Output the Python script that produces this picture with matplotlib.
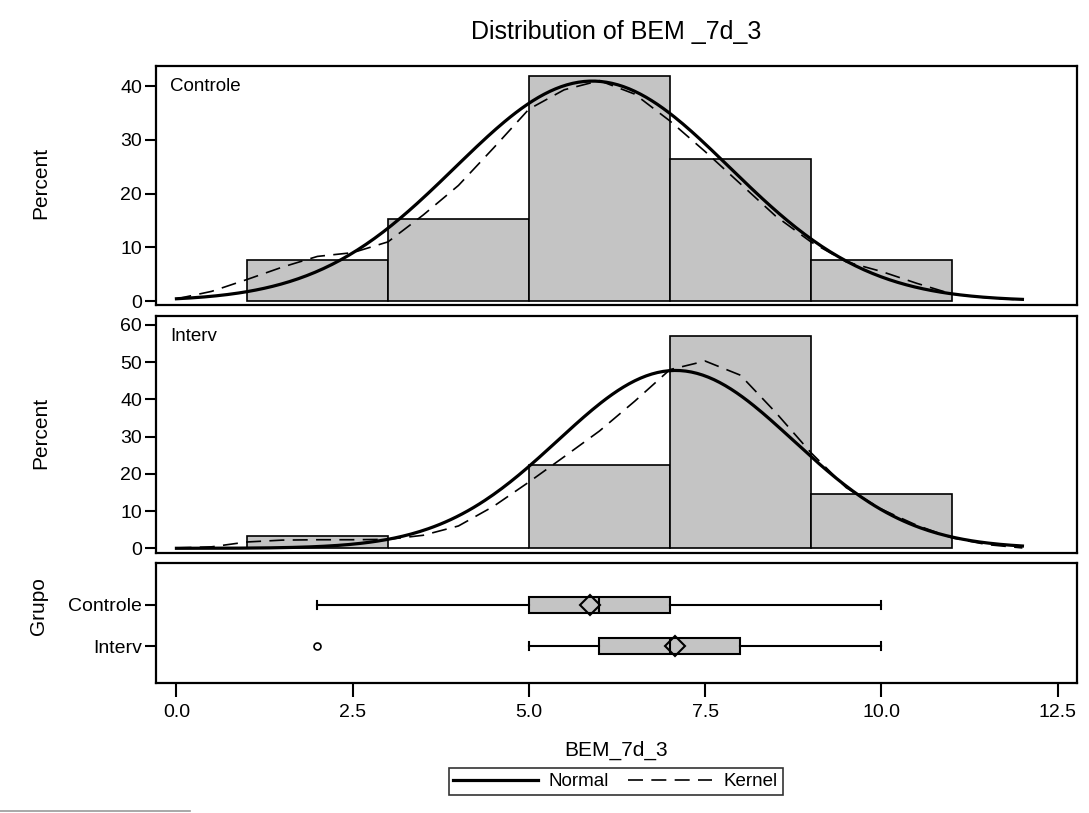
import numpy as np
import matplotlib
matplotlib.use('Agg')
import matplotlib.pyplot as plt
from matplotlib.lines import Line2D

plt.rcParams['font.family'] = ['Liberation Sans', 'DejaVu Sans']

# histogram bins (midpoints, width 2)
bin_mids = [2, 4, 6, 8, 10]
pct_controle = [7.6, 15.2, 41.9, 26.4, 7.6]
pct_interv = [3.4, 0.0, 22.4, 57.0, 14.5]

# fitted normal (mean, std)
normal_controle = (5.9, 1.95)
normal_interv = (7.08, 1.67)

# kernel density curves (percent)
kx = [0.0, 0.5, 1.0, 1.5, 2.0, 2.5, 3.0, 3.5, 4.0, 4.5, 5.0, 5.5, 6.0,
      6.5, 7.0, 7.5, 8.0, 8.5, 9.0, 9.5, 10.0, 10.5, 11.0, 11.5, 12.0]
kern_controle = [0.4, 1.8, 4.0, 6.3, 8.3, 9.0, 11.0, 16.0, 21.5, 28.5, 35.7, 39.3, 41.0,
                 38.5, 33.5, 27.8, 21.8, 15.8, 11.0, 7.3, 5.5, 3.3, 1.3, 0.6, 0.2]
kern_interv = [0.1, 0.4, 1.7, 2.2, 2.3, 2.3, 2.4, 3.5, 6.0, 11.3, 17.8, 24.6, 31.5,
               39.5, 48.0, 50.3, 46.5, 36.5, 25.7, 16.3, 10.5, 6.2, 2.8, 1.0, 0.1]

# box plot summaries
groups = ['Controle', 'Interv']
whislo = [2, 5]
q1 = [5, 6]
med = [6, 7]
q3 = [7, 8]
whishi = [10, 10]
means = [5.87, 7.07]
fliers = [[], [2]]

W, H = 1089, 813
fig = plt.figure(figsize=(W / 100, H / 100), dpi=100)

left = 156 / W
width = (1076.7 - 156) / W
def frac(top, bot):
    return [left, 1 - bot / H, width, (bot - top) / H]

ax1 = fig.add_axes(frac(65.7, 305))
ax2 = fig.add_axes(frac(316, 553.3), sharex=ax1)
ax3 = fig.add_axes(frac(563, 683.3), sharex=ax1)

fill = '#c4c4c4'
xs = np.linspace(0, 12, 300)


def panel(ax, pct, norm, kern, label, ylim, yticks):
    ax.bar(bin_mids, pct, width=2, color=fill, edgecolor='black', linewidth=1.2, zorder=1)
    mu, sd = norm
    ax.plot(xs, 200 * np.exp(-0.5 * ((xs - mu) / sd) ** 2) / (sd * np.sqrt(2 * np.pi)),
            color='black', lw=2.3, zorder=3)
    ax.plot(kx, kern, color='black', lw=1.2, dashes=(9, 5), zorder=3)
    ax.set_ylim(*ylim)
    ax.set_yticks(yticks)
    ax.set_ylabel('Percent', fontsize=15)
    ax.yaxis.set_label_coords(-0.115, 0.508)
    ax.text(0.015, 0.914, label, transform=ax.transAxes, fontsize=13.5, va='center')
    ax.tick_params(axis='x', which='both', bottom=False, labelbottom=False)


panel(ax1, pct_controle, normal_controle, kern_controle, 'Controle', (-0.74, 43.78), [0, 10, 20, 30, 40])
panel(ax2, pct_interv, normal_interv, kern_interv, 'Interv', (-1.34, 62.4), [0, 10, 20, 30, 40, 50, 60])

stats = []
for i, g in enumerate(groups):
    stats.append(dict(label=g, whislo=whislo[i], q1=q1[i], med=med[i], q3=q3[i],
                      whishi=whishi[i], mean=means[i], fliers=fliers[i]))
ax3.bxp(stats, positions=[0, 1], widths=0.39, orientation='horizontal', showmeans=True,
        patch_artist=True, capwidths=0.2,
        boxprops=dict(facecolor=fill, edgecolor='black', linewidth=1.5),
        medianprops=dict(color='black', linewidth=1.5),
        whiskerprops=dict(color='black', linewidth=1.5),
        capprops=dict(color='black', linewidth=1.5),
        meanprops=dict(marker='D', markerfacecolor='none', markeredgecolor='black',
                       markersize=10, markeredgewidth=1.5),
        flierprops=dict(marker='o', markerfacecolor='none', markeredgecolor='black',
                        markersize=5, markeredgewidth=1.2))
ax3.set_ylim(1.90, -1.01)
ax3.set_yticks([0, 1])
ax3.set_yticklabels(groups)
ax3.set_ylabel('Grupo', fontsize=15)
ax3.yaxis.set_label_coords(-0.117, 0.64)
ax3.set_xlim(-0.29, 12.77)
ax3.set_xticks([0.0, 2.5, 5.0, 7.5, 10.0, 12.5])
ax3.set_xticklabels(['0.0', '2.5', '5.0', '7.5', '10.0', '12.5'])
ax3.set_xlabel('BEM_7d_3', fontsize=15, labelpad=14)

for ax in (ax1, ax2, ax3):
    for s in ax.spines.values():
        s.set_linewidth(1.6)
    ax.tick_params(axis='y', direction='out', length=8, width=1.5, labelsize=14, pad=2)
ax3.tick_params(axis='x', direction='out', length=10, width=1.5, labelsize=14, pad=5)

ax1.set_title('Distribution of BEM _7d_3', fontsize=18, pad=19)

handles = [Line2D([], [], color='black', lw=2.3),
           Line2D([], [], color='black', lw=1.2, dashes=(9, 5))]
leg = fig.legend(handles, ['Normal', 'Kernel'], loc='center', bbox_to_anchor=(615.6 / W, 1 - 781.5 / H),
                 ncol=2, fontsize=13.5, frameon=True, fancybox=False, handlelength=4.5,
                 handletextpad=0.6, columnspacing=1.0, borderpad=0.25)
leg.get_frame().set_edgecolor('black')
leg.get_frame().set_linewidth(1.2)

fig.add_artist(Line2D([0, 190 / W], [1 - 811 / H, 1 - 811 / H], color='#999999', lw=1.2))

fig.savefig('out.png', dpi=100)
